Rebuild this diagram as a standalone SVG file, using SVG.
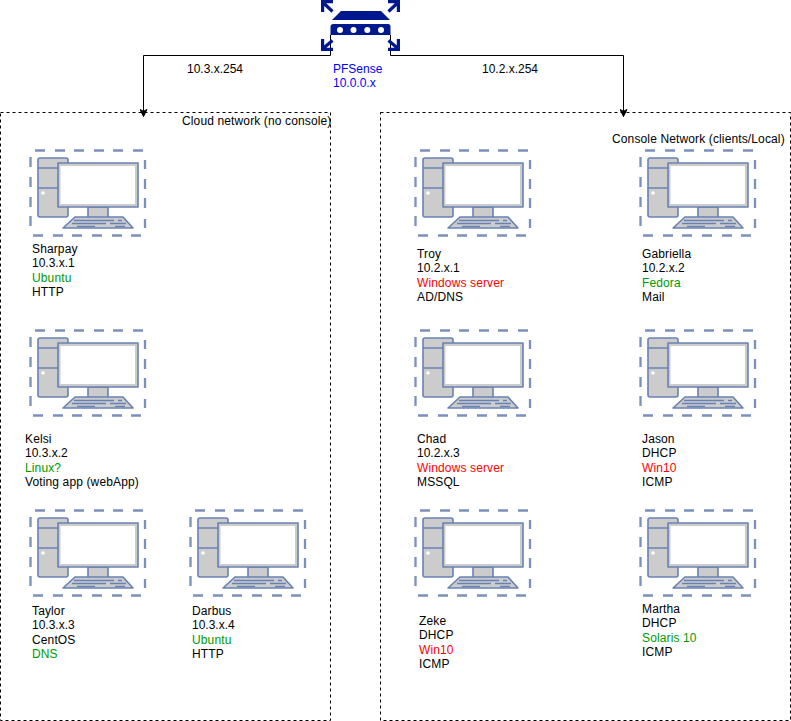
<svg xmlns="http://www.w3.org/2000/svg" xmlns:xlink="http://www.w3.org/1999/xlink" width="791" height="721" viewBox="0 0 791 721">
<style>
text{font-family:"Liberation Sans",Arial,sans-serif;font-size:12px;fill:#000;letter-spacing:.13px}
text.n{letter-spacing:0}
.g{fill:#009900}.r{fill:#ff0000}.b{fill:#0000ff}
.box{fill:none;stroke:#000;stroke-dasharray:3 3}
.con{fill:none;stroke:#000}
.ic{stroke:#6881b3;stroke-width:1.6;fill:#cccccc;stroke-linejoin:round}
.dash{fill:none;stroke:#7a90bd;stroke-width:2.300}
.r1{fill:#00188d}
</style>
<defs>
<marker id="arr" viewBox="0 0 8 8" refX="7.500" refY="4" markerWidth="8" markerHeight="8" orient="auto" markerUnits="userSpaceOnUse"><path d="M0.500 0.500L7.500 4L0.500 7.500L2.300 4Z" fill="#000" stroke="#000"/></marker>
<g id="pc">
<path class="dash" d="M5 0.500H15M25 0.500H35M44 0.500H54M64 0.500H74M83 0.500H93M103 0.500H113M115 10V19M115 29V39M115 48V58M115 69V78M3 85.500H13M23 85.500H33M42 85.500H52M62 85.500H72M82 85.500H92M101 85.500H111M0.500 7V17M0.500 27V37M0.500 47V57M0.500 66V76"/>
<rect class="ic" x="8" y="8" width="30" height="59" rx="2"/>
<path class="ic" d="M8 18H38M8 38H28" fill="none"/>
<circle cx="13" cy="43" r="1.800" fill="#fff"/>
<rect class="ic" x="58" y="57" width="20" height="11"/>
<rect class="ic" x="28" y="13" width="80" height="44"/>
<rect x="30.500" y="16" width="74.500" height="38" fill="#fff"/>
<path class="ic" d="M45 67H93L103 78H33Z"/>
<path d="M44 70.500H84M88 70.500H92M42 73.500H76M80 73.500H96M47 76.300H65M85 76.300H95" stroke="#6881b3" stroke-width="1.300" fill="none"/>
</g>
</defs>
<g id="connectors">
<path class="con" d="M330.500 35V55.500H143.500V116.500" marker-end="url(#arr)"/>
<path class="con" d="M390.500 35V55.500H623.500V116.500" marker-end="url(#arr)"/>
</g>
<g id="cloud-network">
<rect class="box" x="0.500" y="112.500" width="330" height="608"/>
<text x="182" y="125">Cloud network (no console)</text>
</g>
<g id="console-network">
<rect class="box" x="380.500" y="112.500" width="410" height="608"/>
<text x="612" y="143">Console Network (clients/Local)</text>
</g>
<g id="pfsense">
<path class="r1" d="M332 20L341 11H381L390 20Z"/>
<path class="r1" d="M333.500 24H388Q390.500 24 390.500 26.500V35H330.500V26.500Q330.500 24 333.500 24Z"/>
<g fill="#fff"><circle cx="340" cy="30" r="3"/><circle cx="353.500" cy="30" r="3"/><circle cx="367.300" cy="30" r="3"/><circle cx="381" cy="30" r="3"/></g>
<g fill="none" stroke="#00188d" stroke-width="3.200">
<path d="M332.500 11.500L323 2.500M322.600 12V1.600H333"/>
<path d="M388.500 11.500L398 2.500M398.400 12V1.600H388"/>
<path d="M332.500 40.500L323 48.500M322.600 39V49.400H333"/>
<path d="M388.500 40.500L398 48.500M398.400 39V49.400H388"/>
</g>
<text class="b n" x="333" y="73">PFSense</text>
<text class="b n" x="333" y="87">10.0.0.x</text>
</g>
<g id="label-left"><text class="n" x="187" y="73">10.3.x.254</text></g>
<g id="label-right"><text class="n" x="482" y="73">10.2.x.254</text></g>
<g id="sharpay"><use xlink:href="#pc" href="#pc" x="30" y="150"/>
<text x="32" y="253">Sharpay</text><text class="n" x="32" y="267">10.3.x.1</text><text class="g" x="32" y="282">Ubuntu</text><text x="32" y="296">HTTP</text></g>
<g id="kelsi"><use xlink:href="#pc" href="#pc" x="30" y="330"/>
<text x="25" y="443">Kelsi</text><text class="n" x="25" y="457">10.3.x.2</text><text class="g" x="25" y="472">Linux?</text><text x="25" y="486">Voting app (webApp)</text></g>
<g id="taylor"><use xlink:href="#pc" href="#pc" x="30" y="510"/>
<text x="32" y="615">Taylor</text><text class="n" x="32" y="629">10.3.x.3</text><text x="32" y="644">CentOS</text><text class="g" x="32" y="658">DNS</text></g>
<g id="darbus"><use xlink:href="#pc" href="#pc" x="190" y="510"/>
<text x="192" y="615">Darbus</text><text class="n" x="192" y="629">10.3.x.4</text><text class="g" x="192" y="644">Ubuntu</text><text x="192" y="658">HTTP</text></g>
<g id="troy"><use xlink:href="#pc" href="#pc" x="415" y="150"/>
<text x="417" y="258">Troy</text><text class="n" x="417" y="272">10.2.x.1</text><text class="r" x="417" y="287">Windows server</text><text x="417" y="301">AD/DNS</text></g>
<g id="gabriella"><use xlink:href="#pc" href="#pc" x="640" y="150"/>
<text x="642" y="258">Gabriella</text><text class="n" x="642" y="272">10.2.x.2</text><text class="g" x="642" y="287">Fedora</text><text x="642" y="301">Mail</text></g>
<g id="chad"><use xlink:href="#pc" href="#pc" x="415" y="330"/>
<text x="417" y="443">Chad</text><text class="n" x="417" y="457">10.2.x.3</text><text class="r" x="417" y="472">Windows server</text><text x="417" y="486">MSSQL</text></g>
<g id="jason"><use xlink:href="#pc" href="#pc" x="640" y="330"/>
<text x="642" y="443">Jason</text><text x="642" y="457">DHCP</text><text class="r" x="642" y="472">Win10</text><text x="642" y="486">ICMP</text></g>
<g id="zeke"><use xlink:href="#pc" href="#pc" x="415" y="510"/>
<text x="419" y="625">Zeke</text><text x="419" y="639">DHCP</text><text class="r" x="419" y="654">Win10</text><text x="419" y="668">ICMP</text></g>
<g id="martha"><use xlink:href="#pc" href="#pc" x="640" y="510"/>
<text x="642" y="613">Martha</text><text x="642" y="627">DHCP</text><text class="g" x="642" y="642">Solaris 10</text><text x="642" y="656">ICMP</text></g>
</svg>
